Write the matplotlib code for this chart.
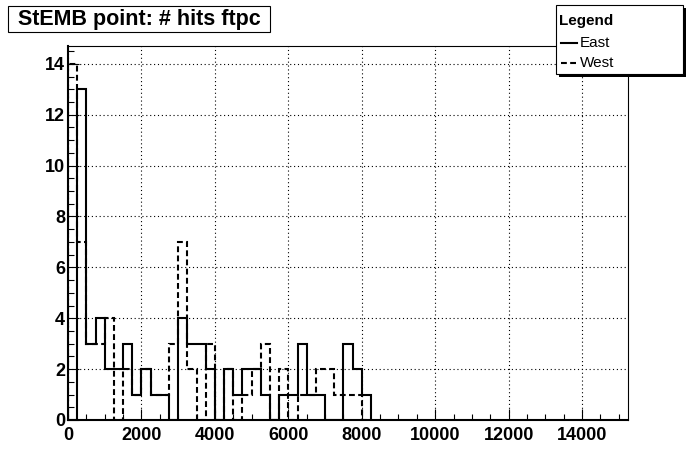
import numpy as np
import matplotlib
matplotlib.use('Agg')
import matplotlib.pyplot as plt
from matplotlib.patches import Rectangle
from matplotlib.ticker import MultipleLocator

plt.rcParams['font.family'] = ['Liberation Sans', 'DejaVu Sans']

# histogram contents, 250 wide bins starting at 0
bin_width = 250
x_max = 15250
east = [0, 13, 3, 4, 2, 2, 3, 1, 2, 1, 1, 0, 4, 3, 3, 2, 0, 2, 1, 2, 2,
        1, 0, 1, 1, 3, 1, 1, 0, 0, 3, 2, 1]
west = [14, 7, 3, 3, 4, 0, 2, 1, 2, 1, 1, 3, 7, 2, 0, 3, 0, 2, 0, 1, 2,
        3, 0, 2, 0, 1, 1, 2, 2, 1, 1, 1, 0]

title = 'StEMB point: # hits ftpc'
names = ['East', 'West']

edges_e = np.arange(len(east) + 1) * bin_width
edges_w = np.arange(len(west) + 1) * bin_width
dash = (0, (2.8, 1.6))

fig = plt.figure(figsize=(6.96, 4.68), dpi=100)
ax = fig.add_axes([68 / 696, 1 - 420 / 468, 560 / 696, 374 / 468])

ax.stairs(west, edges_w, color='black', lw=1.5, linestyle=dash, zorder=3)
ax.stairs(east, edges_e, color='black', lw=1.5, zorder=4)

ax.set_xlim(0, x_max)
ax.set_ylim(0, 14.7)
ax.xaxis.set_major_locator(MultipleLocator(2000))
ax.xaxis.set_minor_locator(MultipleLocator(500))
ax.yaxis.set_major_locator(MultipleLocator(2))
ax.yaxis.set_minor_locator(MultipleLocator(0.5))
ax.grid(True, which='major', color='black', linestyle=(0, (1, 2.5)), lw=0.8)
ax.set_axisbelow(True)

ax.tick_params(which='both', direction='in', top=False, right=False, width=0.8)
ax.tick_params(which='major', length=8)
ax.tick_params(which='minor', length=4)
ax.tick_params(axis='x', pad=5)
ax.tick_params(axis='y', pad=2)
for lab in ax.get_xticklabels() + ax.get_yticklabels():
    lab.set_fontsize(13)
    lab.set_fontweight('bold')

ax.spines['left'].set_linewidth(1.5)
ax.spines['bottom'].set_linewidth(1.5)
ax.spines['top'].set_linewidth(0.8)
ax.spines['right'].set_linewidth(0.8)

# overlay in pixel coordinates for title and legend boxes
ov = fig.add_axes([0, 0, 1, 1], zorder=10)
ov.set_xlim(0, 696)
ov.set_ylim(468, 0)
ov.axis('off')
ov.patch.set_alpha(0)

ov.add_patch(Rectangle((8, 6), 262, 26, fc='white', ec='black', lw=0.8))
ov.text(139, 19.5, title, ha='center', va='center', fontsize=15.5, fontweight='bold')

ov.add_patch(Rectangle((559, 8), 127, 69, fc='black', ec='none'))
ov.add_patch(Rectangle((556, 5), 127, 69, fc='white', ec='black', lw=0.8))
ov.text(559, 21, 'Legend', ha='left', va='center', fontsize=11, fontweight='bold')
ov.plot([561, 577], [43, 43], color='black', lw=1.5)
ov.text(580, 43, names[0], ha='left', va='center', fontsize=11)
ov.plot([561, 577], [63, 63], color='black', lw=1.5, linestyle=dash)
ov.text(580, 63, names[1], ha='left', va='center', fontsize=11)

fig.savefig('out.png', dpi=100)
